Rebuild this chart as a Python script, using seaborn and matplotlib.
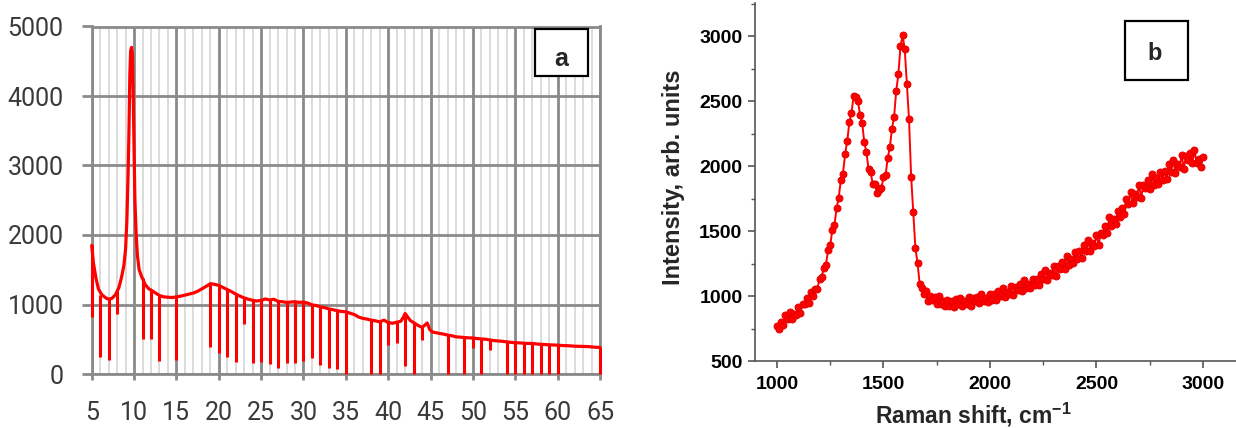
import matplotlib
matplotlib.use("Agg")
import matplotlib.pyplot as plt
from matplotlib.patches import Rectangle
from matplotlib.ticker import MultipleLocator
import seaborn as sns

# ---------------- (a) XRD pattern ----------------
xrd_angle = [
    5.0, 5.2, 5.5, 5.8, 6.2, 6.6, 7.0, 7.4, 7.8, 8.2, 8.5, 8.8, 9.0, 9.15, 9.3,
    9.4, 9.5, 9.6, 9.7, 9.8, 9.9, 10.0, 10.1, 10.25, 10.4, 10.6, 10.9, 11.3,
    11.7, 12.1, 12.6, 13.0, 13.5, 14.0, 14.5, 15.0, 15.5, 16.0, 16.5, 17.0,
    17.5, 18.0, 18.5, 19.0, 19.5, 20.0, 20.5, 21.0, 21.5, 22.0, 22.5, 23.0,
    23.5, 24.0, 24.5, 25.0, 25.5, 26.0, 26.5, 27.0, 27.5, 28.0, 28.5, 29.0,
    29.5, 30.0, 30.5, 31.0, 31.5, 32.0, 32.5, 33.0, 33.5, 34.0, 34.5, 35.0,
    35.5, 36.0, 36.5, 37.0, 37.5, 38.0, 38.5, 39.0, 39.5, 40.0, 40.5, 41.0,
    41.5, 41.8, 42.0, 42.3, 42.6, 43.0, 43.5, 44.0, 44.3, 44.6, 44.9, 45.2,
    45.6, 46.0, 46.5, 47.0, 47.5, 48.0, 48.5, 49.0, 49.5, 50.0, 50.5, 51.0,
    51.5, 52.0, 52.5, 53.0, 53.5, 54.0, 54.5, 55.0, 55.5, 56.0, 56.5, 57.0,
    57.5, 58.0, 58.5, 59.0, 59.5, 60.0, 60.5, 61.0, 61.5, 62.0, 62.5, 63.0,
    63.5, 64.0, 64.5, 65.0,
]
xrd_counts = [
    1850, 1600, 1380, 1220, 1140, 1100, 1075, 1090, 1140, 1240, 1380, 1560,
    1800, 2200, 2900, 3500, 4300, 4650, 4700, 4600, 4000, 3200, 2500, 2000,
    1700, 1500, 1400, 1290, 1230, 1200, 1160, 1130, 1110, 1105, 1100, 1110,
    1120, 1135, 1150, 1165, 1190, 1225, 1260, 1300, 1290, 1275, 1245, 1215,
    1185, 1150, 1120, 1095, 1075, 1060, 1050, 1060, 1080, 1065, 1075, 1045,
    1040, 1030, 1035, 1040, 1030, 1035, 1020, 995, 985, 965, 955, 935, 925,
    910, 900, 895, 875, 855, 820, 800, 790, 775, 765, 750, 775, 740, 730,
    745, 760, 820, 870, 820, 770, 740, 700, 670, 700, 735, 640, 605, 595,
    585, 575, 560, 550, 535, 530, 525, 520, 518, 510, 505, 500, 490, 480,
    475, 470, 462, 455, 450, 448, 443, 440, 440, 432, 428, 425, 420, 418,
    415, 410, 408, 405, 400, 398, 395, 395, 390, 385, 382,
]
# single-point dropouts in the recorded pattern
dropout_angle = [5, 6, 7, 8, 11, 12, 13, 15, 19, 20, 21, 22, 23, 24, 25, 26,
                 27, 28, 29, 30, 31, 32, 33, 34, 35, 38, 39, 40, 41, 42, 43,
                 44, 47, 49, 50, 51, 52, 54, 55, 56, 57, 58, 59, 60, 65]
dropout_low = [820, 250, 200, 860, 510, 510, 190, 200, 390, 307, 240, 177,
               720, 153, 177, 144, 81, 153, 153, 185, 225, 125, 80, 67, 0, 0,
               0, 417, 440, 110, 0, 495, 0, 0, 370, 0, 345, 0, 0, 0, 0, 0, 0,
               0, 0]
dropout_high = [1850, 1140, 1075, 1200, 1380, 1205, 1130, 1110, 1300, 1275,
                1215, 1150, 1095, 1060, 1060, 1065, 1045, 1030, 1040, 1035,
                995, 965, 935, 910, 895, 775, 750, 740, 745, 870, 740, 670,
                560, 525, 518, 505, 490, 462, 450, 443, 440, 428, 420, 415,
                382]
xrd_xticks = [5, 10, 15, 20, 25, 30, 35, 40, 45, 50, 55, 60, 65]
xrd_yticks = [0, 1000, 2000, 3000, 4000, 5000]

# ---------------- (b) Raman spectrum ----------------
raman_shift = [
    1000, 1010, 1020, 1030, 1040, 1050, 1060, 1070, 1080, 1090,
    1100, 1110, 1120, 1130, 1140, 1150, 1160, 1170, 1180, 1190,
    1200, 1210, 1220, 1230, 1240, 1250, 1260, 1270, 1280, 1290,
    1300, 1310, 1320, 1330, 1340, 1350, 1360, 1370, 1380, 1390,
    1400, 1410, 1420, 1430, 1440, 1450, 1460, 1470, 1480, 1490,
    1500, 1510, 1520, 1530, 1540, 1550, 1560, 1570, 1580, 1590,
    1600, 1610, 1620, 1630, 1640, 1650, 1660, 1670, 1680, 1690,
    1700, 1710, 1720, 1730, 1740, 1750, 1760, 1770, 1780, 1790,
    1800, 1810, 1820, 1830, 1840, 1850, 1860, 1870, 1880, 1890,
    1900, 1910, 1920, 1930, 1940, 1950, 1960, 1970, 1980, 1990,
    2000, 2010, 2020, 2030, 2040, 2050, 2060, 2070, 2080, 2090,
    2100, 2110, 2120, 2130, 2140, 2150, 2160, 2170, 2180, 2190,
    2200, 2210, 2220, 2230, 2240, 2250, 2260, 2270, 2280, 2290,
    2300, 2310, 2320, 2330, 2340, 2350, 2360, 2370, 2380, 2390,
    2400, 2410, 2420, 2430, 2440, 2450, 2460, 2470, 2480, 2490,
    2500, 2510, 2520, 2530, 2540, 2550, 2560, 2570, 2580, 2590,
    2600, 2610, 2620, 2630, 2640, 2650, 2660, 2670, 2680, 2690,
    2700, 2710, 2720, 2730, 2740, 2750, 2760, 2770, 2780, 2790,
    2800, 2810, 2820, 2830, 2840, 2850, 2860, 2870, 2880, 2890,
    2900, 2910, 2920, 2930, 2940, 2950, 2960, 2970, 2980, 2990,
    3000,
]
raman_intensity = [
    768, 748, 799, 779, 851, 823, 879, 823, 865, 854,
    914, 870, 939, 937, 981, 950, 1032, 1001, 1053, 1055,
    1134, 1147, 1217, 1240, 1351, 1390, 1507, 1548, 1674, 1757,
    1893, 1942, 2091, 2194, 2337, 2410, 2540, 2530, 2502, 2396,
    2334, 2182, 2107, 1975, 1951, 1860, 1862, 1793, 1819, 1827,
    1913, 1932, 2061, 2144, 2287, 2380, 2580, 2705, 2920, 3005,
    2898, 2628, 2359, 1919, 1646, 1368, 1254, 1093, 1065, 1014,
    1039, 960, 999, 967, 991, 940, 997, 939, 958, 922,
    970, 926, 958, 914, 977, 937, 987, 922, 961, 940,
    992, 925, 981, 960, 995, 947, 1019, 960, 988, 956,
    1015, 971, 1012, 968, 1040, 999, 1059, 991, 1034, 1015,
    1075, 1004, 1069, 1048, 1089, 1040, 1121, 1061, 1095, 1062,
    1130, 1082, 1134, 1086, 1173, 1128, 1202, 1125, 1179, 1159,
    1231, 1151, 1230, 1210, 1261, 1208, 1307, 1240, 1284, 1251,
    1335, 1283, 1344, 1292, 1396, 1347, 1432, 1347, 1410, 1388,
    1472, 1389, 1487, 1472, 1539, 1485, 1604, 1535, 1590, 1557,
    1656, 1608, 1680, 1632, 1749, 1705, 1803, 1716, 1787, 1765,
    1854, 1757, 1853, 1827, 1889, 1822, 1940, 1857, 1905, 1860,
    1954, 1893, 1960, 1899, 2013, 1955, 2049, 1950, 2019, 1992,
    2084, 1979, 2077, 2048, 2103, 2020, 2127, 2021, 2055, 1991,
    2072,
]
raman_xticks = [1000, 1500, 2000, 2500, 3000]
raman_yticks = [500, 1000, 1500, 2000, 2500, 3000]

sns.set_style("white")
plt.rcParams["font.family"] = ["Liberation Sans", "DejaVu Sans"]
plt.rcParams["mathtext.default"] = "regular"

W, H = 1236, 428
fig = plt.figure(figsize=(W / 100, H / 100), dpi=100)


def px_rect(left, top, right, bottom):
    return [left / W, 1 - bottom / H, (right - left) / W, (bottom - top) / H]


ax_a = fig.add_axes(px_rect(91.7, 26.5, 600, 374))
ax_b = fig.add_axes(px_rect(755, 3, 1236, 361))

# ---- panel a ----
grid_major = "#8a8a8a"
grid_minor = "#dcdcdc"
sns.lineplot(x=xrd_angle, y=xrd_counts, ax=ax_a, color="red",
             linewidth=2.3, zorder=4, clip_on=False)
ax_a.vlines(dropout_angle, dropout_low, dropout_high, color="red",
            linewidth=2.2, zorder=4, clip_on=False)
ax_a.set_xlim(5, 65)
ax_a.set_ylim(0, 5000)
ax_a.set_xticks(xrd_xticks)
ax_a.set_yticks(xrd_yticks)
ax_a.xaxis.set_minor_locator(MultipleLocator(1))
ax_a.set_axisbelow(True)
ax_a.grid(which="major", color=grid_major, linewidth=2.0)
ax_a.grid(which="minor", axis="x", color=grid_minor, linewidth=1.4)
for s in ax_a.spines.values():
    s.set_visible(True)
    s.set_color(grid_major)
    s.set_linewidth(2.0)
ax_a.tick_params(axis="x", which="major", bottom=True, length=4.3, width=2.0,
                 color=grid_major, pad=15, labelsize=18, labelcolor="#3a3a3a")
ax_a.tick_params(axis="y", which="major", left=True, length=7.2, width=2.0,
                 color=grid_major, pad=13, labelsize=18, labelcolor="#3a3a3a")
ax_a.tick_params(which="minor", length=0)
for lab in ax_a.get_xticklabels() + ax_a.get_yticklabels():
    lab.set_fontfamily("Roboto")
ax_a.set_xlabel("")
ax_a.set_ylabel("")

# ---- panel b ----
sns.lineplot(x=raman_shift, y=raman_intensity, ax=ax_b, color="red",
             linewidth=1.4, marker="o", markersize=5,
             markeredgecolor="#e40000", markeredgewidth=0.7)
ax_b.set_xlim(897, 3155)
ax_b.set_ylim(500, 3254)
ax_b.set_xticks(raman_xticks)
ax_b.set_yticks(raman_yticks)
ax_b.xaxis.set_minor_locator(MultipleLocator(250))
ax_b.yaxis.set_minor_locator(MultipleLocator(250))
sns.despine(ax=ax_b)
for side in ("left", "bottom"):
    ax_b.spines[side].set_color("#555555")
    ax_b.spines[side].set_linewidth(1.2)
ax_b.tick_params(which="major", direction="out", bottom=True, left=True,
                 length=5, width=1.2, color="#555555", labelsize=14,
                 labelcolor="black")
ax_b.tick_params(axis="x", which="major", pad=5.5)
ax_b.tick_params(axis="y", which="major", pad=4)
ax_b.tick_params(which="minor", direction="out", bottom=True, left=True,
                 length=3, width=1.0, color="#555555")
for lab in ax_b.get_xticklabels() + ax_b.get_yticklabels():
    lab.set_fontweight("bold")
ax_b.set_xlabel(r"Raman shift, cm$^{-1}$", fontsize=16.5, fontweight="bold")
ax_b.set_ylabel("Intensity, arb. units", fontsize=17, fontweight="bold")
ax_b.xaxis.set_label_coords(0.453, -0.1117)
ax_b.yaxis.set_label_coords(-0.1455, 0.514)

# ---- panel letters ----
def letter_box(left, top, right, bottom, letter, cx, baseline, size):
    l, b, w, h = px_rect(left, top, right, bottom)
    fig.patches.append(Rectangle((l, b), w, h, transform=fig.transFigure,
                                 facecolor="white", edgecolor="black",
                                 linewidth=1.6, zorder=10))
    fig.text(cx / W, 1 - baseline / H, letter, ha="center", va="baseline",
             fontsize=size, fontweight="bold", zorder=11)


letter_box(535, 29, 588, 76, "a", 561, 66.5, 18)
letter_box(1125, 21, 1188, 80, "b", 1155, 60, 17)

fig.savefig("out.png", dpi=100)
